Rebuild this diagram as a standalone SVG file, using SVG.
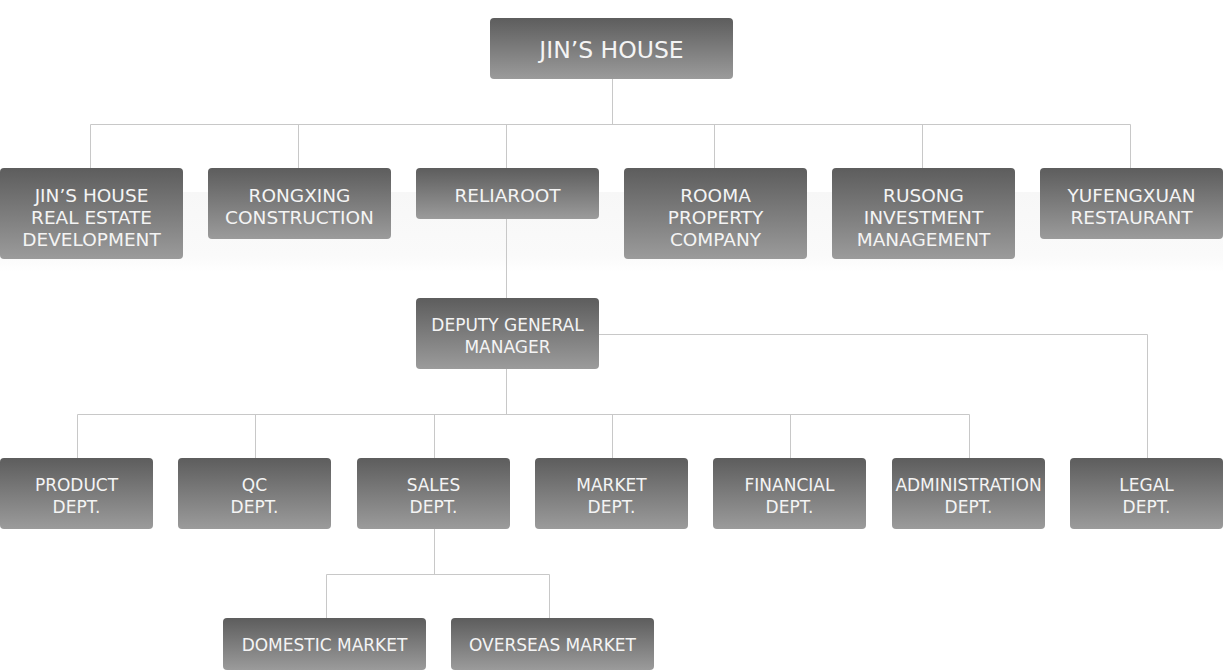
<svg xmlns="http://www.w3.org/2000/svg" width="1223" height="670" viewBox="0 0 1223 670">
<defs>
<linearGradient id="g" x1="0" y1="0" x2="0" y2="1">
<stop offset="0" stop-color="#5d5d5d"/>
<stop offset="1" stop-color="#9b9b9b"/>
</linearGradient>
<linearGradient id="band" x1="0" y1="0" x2="0" y2="1">
<stop offset="0" stop-color="#f7f7f7"/>
<stop offset="0.8" stop-color="#fafafa"/>
<stop offset="1" stop-color="#ffffff"/>
</linearGradient>
</defs>
<style>
.box{fill:url(#g);}
.t{font-family:"DejaVu Sans",Verdana,sans-serif;fill:#f4f4f4;text-anchor:middle;}
.t1{font-size:23.5px;}
.t2{font-size:18.5px;}
.t3{font-size:17px;}
.c{fill:none;stroke:#c8c8c8;stroke-width:1;}
</style>
<rect x="0" y="192" width="1223" height="80" fill="url(#band)"/>
<g id="connectors">
<path class="c" d="M612.5 79V124.5M90.5 168V124.5H1130.5V168M298.5 124.5V168M506.5 124.5V168M714.5 124.5V168M922.5 124.5V168"/>
<path class="c" d="M506.5 219V298"/>
<path class="c" d="M599 334.5H1147.5V458"/>
<path class="c" d="M506.5 369V414.5M77.5 458V414.5H969.5V458M255.5 414.5V458M434.5 414.5V458M612.5 414.5V458M790.5 414.5V458"/>
<path class="c" d="M434.5 529V574.5M326.5 618V574.5H549.5V618"/>
</g>
<g id="n-jins-house"><rect class="box" x="490" y="18" width="243" height="61" rx="4"/><text class="t t1" x="611.5" y="58">JIN’S HOUSE</text></g>
<g id="n-real-estate"><rect class="box" x="0" y="168" width="183" height="91" rx="4"/><text class="t t2" x="91.5" y="202">JIN’S HOUSE</text><text class="t t2" x="91.5" y="224">REAL ESTATE</text><text class="t t2" x="91.5" y="246">DEVELOPMENT</text></g>
<g id="n-rongxing"><rect class="box" x="208" y="168" width="183" height="71" rx="4"/><text class="t t2" x="299.5" y="202">RONGXING</text><text class="t t2" x="299.5" y="224">CONSTRUCTION</text></g>
<g id="n-reliaroot"><rect class="box" x="416" y="168" width="183" height="51" rx="4"/><text class="t t2" x="507.5" y="202">RELIAROOT</text></g>
<g id="n-rooma"><rect class="box" x="624" y="168" width="183" height="91" rx="4"/><text class="t t2" x="715.5" y="202">ROOMA</text><text class="t t2" x="715.5" y="224">PROPERTY</text><text class="t t2" x="715.5" y="246">COMPANY</text></g>
<g id="n-rusong"><rect class="box" x="832" y="168" width="183" height="91" rx="4"/><text class="t t2" x="923.5" y="202">RUSONG</text><text class="t t2" x="923.5" y="224">INVESTMENT</text><text class="t t2" x="923.5" y="246">MANAGEMENT</text></g>
<g id="n-yufengxuan"><rect class="box" x="1040" y="168" width="183" height="71" rx="4"/><text class="t t2" x="1131.5" y="202">YUFENGXUAN</text><text class="t t2" x="1131.5" y="224">RESTAURANT</text></g>
<g id="n-deputy"><rect class="box" x="416" y="298" width="183" height="71" rx="4"/><text class="t t3" x="507.5" y="331">DEPUTY GENERAL</text><text class="t t3" x="507.5" y="353">MANAGER</text></g>
<g id="n-product"><rect class="box" x="0" y="458" width="153" height="71" rx="4"/><text class="t t3" x="76.5" y="491">PRODUCT</text><text class="t t3" x="76.5" y="513">DEPT.</text></g>
<g id="n-qc"><rect class="box" x="178" y="458" width="153" height="71" rx="4"/><text class="t t3" x="254.5" y="491">QC</text><text class="t t3" x="254.5" y="513">DEPT.</text></g>
<g id="n-sales"><rect class="box" x="357" y="458" width="153" height="71" rx="4"/><text class="t t3" x="433.5" y="491">SALES</text><text class="t t3" x="433.5" y="513">DEPT.</text></g>
<g id="n-market"><rect class="box" x="535" y="458" width="153" height="71" rx="4"/><text class="t t3" x="611.5" y="491">MARKET</text><text class="t t3" x="611.5" y="513">DEPT.</text></g>
<g id="n-financial"><rect class="box" x="713" y="458" width="153" height="71" rx="4"/><text class="t t3" x="789.5" y="491">FINANCIAL</text><text class="t t3" x="789.5" y="513">DEPT.</text></g>
<g id="n-admin"><rect class="box" x="892" y="458" width="153" height="71" rx="4"/><text class="t t3" x="968.5" y="491">ADMINISTRATION</text><text class="t t3" x="968.5" y="513">DEPT.</text></g>
<g id="n-legal"><rect class="box" x="1070" y="458" width="153" height="71" rx="4"/><text class="t t3" x="1146.5" y="491">LEGAL</text><text class="t t3" x="1146.5" y="513">DEPT.</text></g>
<g id="n-domestic"><rect class="box" x="223" y="618" width="203" height="52" rx="4"/><text class="t t3" x="324.5" y="651">DOMESTIC MARKET</text></g>
<g id="n-overseas"><rect class="box" x="451" y="618" width="203" height="52" rx="4"/><text class="t t3" x="552.5" y="651">OVERSEAS MARKET</text></g>
</svg>
